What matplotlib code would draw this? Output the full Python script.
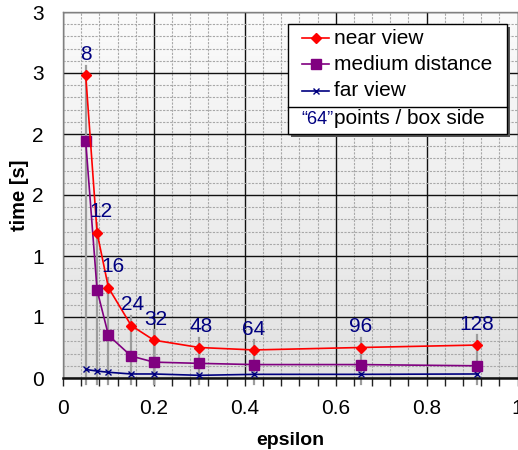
import numpy as np
import matplotlib
matplotlib.use("Agg")
import matplotlib.pyplot as plt
from matplotlib.lines import Line2D
from matplotlib.patches import Rectangle
from matplotlib.ticker import MultipleLocator, FixedLocator

plt.rcParams['font.family'] = ['Liberation Sans', 'DejaVu Sans']

# measurements: tolerance epsilon against run time for three view distances
epsilon = [0.05, 0.075, 0.1, 0.15, 0.2, 0.3, 0.42, 0.655, 0.91]
points_per_side = ["8", "12", "16", "24", "32", "48", "64", "96", "128"]
near_view = [2.48, 1.19, 0.74, 0.43, 0.31, 0.25, 0.23, 0.25, 0.27]
medium_distance = [1.94, 0.72, 0.35, 0.18, 0.13, 0.12, 0.11, 0.11, 0.10]
far_view = [0.07, 0.057, 0.047, 0.033, 0.033, 0.022, 0.03, 0.03, 0.033]
y_ticks = [0, 0.5, 1.0, 1.5, 2.0, 2.5, 3.0]
y_tick_labels = ["0", "1", "1", "2", "2", "3", "3"]
x_ticks = [0, 0.2, 0.4, 0.6, 0.8, 1.0]
x_tick_labels = ["0", "0.2", "0.4", "0.6", "0.8", "1"]

W, H = 518, 450
fig = plt.figure(figsize=(W / 100, H / 100), dpi=100)
ax = fig.add_axes([63 / W, 1 - 378 / H, (517.5 - 63) / W, 366 / H])
ax.set_xlim(0, 1)
ax.set_ylim(0, 3)

# soft vertical gradient behind the plot
grad = np.linspace(0, 1, 256).reshape(-1, 1)
ax.imshow(grad, extent=(0, 1, 0, 3), aspect='auto', origin='upper',
          cmap=matplotlib.colors.LinearSegmentedColormap.from_list(
              'bg', ['#fbfbfb', '#e2e2e2']), zorder=0)

# grid
ax.xaxis.set_major_locator(FixedLocator(x_ticks))
ax.xaxis.set_minor_locator(MultipleLocator(0.04))
ax.yaxis.set_major_locator(FixedLocator(y_ticks))
ax.yaxis.set_minor_locator(MultipleLocator(0.1))
ax.grid(which='minor', color='#a8a8a8', linestyle=(0, (2, 1.2)), linewidth=0.8, zorder=1)
ax.grid(which='major', color='#111111', linestyle='-', linewidth=1.0, zorder=1)
ax.set_axisbelow(True)

ax.set_xticklabels(x_tick_labels)
ax.set_yticklabels(y_tick_labels)
ax.tick_params(axis='x', which='both', direction='out', length=6, width=1,
               color='#222222', labelsize=15, pad=9)
ax.tick_params(axis='y', which='both', length=0, labelsize=15, pad=14)

for side in ['top', 'right', 'left']:
    ax.spines[side].set_color('#808080')
    ax.spines[side].set_linewidth(1)
ax.spines['bottom'].set_color('#111111')
ax.spines['bottom'].set_linewidth(1.8)

ax.set_xlabel('epsilon', fontsize=14, fontweight='bold', labelpad=10)
ax.set_ylabel('time [s]', fontsize=14.5, fontweight='bold', labelpad=2)

# drop lines from each point label down past the axis
for x, y in zip(epsilon, near_view):
    ax.add_line(Line2D([x, x], [-0.05, y + 0.08], color='#9c9c9c',
                       linewidth=1.6, clip_on=False, zorder=2))

ax.plot(epsilon, near_view, color='#ff0000', linewidth=1.2, marker='D',
        markersize=5, zorder=5, label='near view')
ax.plot(epsilon, medium_distance, color='#800080', linewidth=1.2, marker='s',
        markersize=7, zorder=4, label='medium distance')
ax.plot(epsilon, far_view, color='#000080', linewidth=1.2, marker='x',
        markersize=5, markeredgewidth=1, zorder=3, label='far view')

label_dx = [0, 2.5, 3.5, 1, 1.5, 1, 0, 0, 0]
for x, y, txt, dx in zip(epsilon, near_view, points_per_side, label_dx):
    ax.annotate(txt, (x, y), xytext=(dx, 15), textcoords='offset points',
                ha='center', va='center', fontsize=15, color='#000080', zorder=6)

# legend box drawn in figure pixel coordinates
def fx(px):
    return px / W

def fy(py):
    return 1 - py / H

bx0, bx1, by0, by1 = 288, 507, 24, 134
fig.patches.append(Rectangle((fx(bx0 + 3), fy(by1 + 3)), fx(bx1 - bx0), (by1 - by0) / H,
                             transform=fig.transFigure, facecolor='#555555',
                             edgecolor='none', zorder=7))
fig.patches.append(Rectangle((fx(bx0), fy(by1)), fx(bx1 - bx0), (by1 - by0) / H,
                             transform=fig.transFigure, facecolor='white',
                             edgecolor='black', linewidth=1, zorder=8))
fig.lines.append(Line2D([fx(bx0), fx(bx1)], [fy(107), fy(107)],
                        transform=fig.transFigure, color='black', linewidth=1, zorder=9))

entries = [('near view', '#ff0000', 'D', 5, 38),
           ('medium distance', '#800080', 's', 7, 64),
           ('far view', '#000080', 'x', 5, 91)]
for text, col, mk, ms, py in entries:
    fig.lines.append(Line2D([fx(302), fx(329)], [fy(py), fy(py)],
                            transform=fig.transFigure, color=col, linewidth=1.2, zorder=9))
    fig.lines.append(Line2D([fx(315.5)], [fy(py)], transform=fig.transFigure,
                            color=col, marker=mk, markersize=ms, markeredgewidth=1,
                            linestyle='none', zorder=9))
    fig.text(fx(334), fy(py), text, fontsize=15, va='center', ha='left', zorder=9)

fig.text(fx(301), fy(119), '\u201c64\u201d', fontsize=13, color='#000080',
         va='center', ha='left', zorder=9)
fig.text(fx(334), fy(119), 'points / box side', fontsize=15, va='center',
         ha='left', zorder=9)

fig.savefig('out.png', dpi=100)
